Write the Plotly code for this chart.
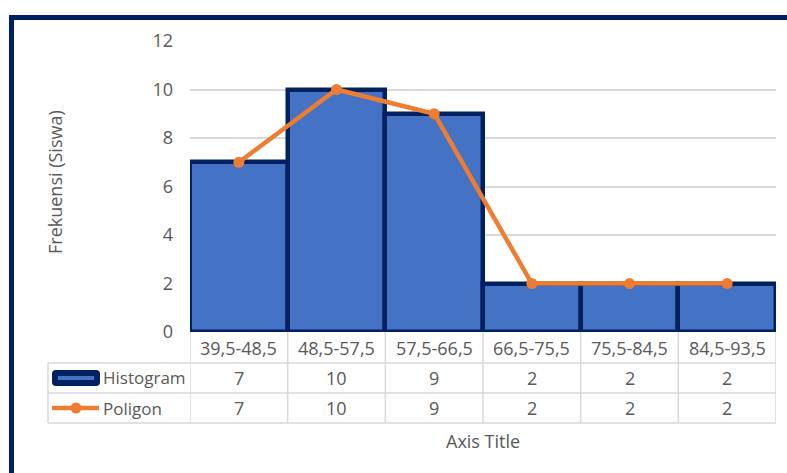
import plotly.graph_objects as go

categories = ["39,5-48,5", "48,5-57,5", "57,5-66,5", "66,5-75,5", "75,5-84,5", "84,5-93,5"]
histogram = [7, 10, 9, 2, 2, 2]
poligon = [7, 10, 9, 2, 2, 2]
y_ticks = [0, 2, 4, 6, 8, 10, 12]

NAVY = "#002060"
BLUE = "#4472C4"
ORANGE = "#ED7D31"
GRID = "#d9d9d9"
TXT = "#595959"
FONT = "Open Sans"
FS = 18

L, R, T, B = 190, 11, 41, 141
W, H = 787, 473
PW, PH = W - L - R, H - T - B
Y0 = H - B  # pixel y of value 0


def px(p):
    return (p - L) / PW


def py(p):
    return (Y0 - p) / PH


fig = go.Figure()
fig.add_trace(go.Bar(
    x=list(range(len(categories))), y=histogram, width=1,
    marker=dict(color=BLUE, line=dict(color=NAVY, width=4.5)),
    name="Histogram", showlegend=False,
))
fig.add_trace(go.Scatter(
    x=list(range(len(categories))), y=poligon, mode="lines+markers",
    line=dict(color=ORANGE, width=4.5), marker=dict(color=ORANGE, size=11),
    name="Poligon", showlegend=False,
))

shapes = []
line_style = dict(color=GRID, width=1.5)
# table vertical lines
for i in range(len(categories) + 1):
    shapes.append(dict(type="line", xref="x", yref="paper", x0=i - 0.5, x1=i - 0.5,
                       y0=py(332), y1=py(423), line=line_style, layer="below"))
# left border of series rows
shapes.append(dict(type="line", xref="paper", yref="paper", x0=px(48), x1=px(48),
                   y0=py(363), y1=py(423), line=line_style))
for yy in (363, 393, 423):
    shapes.append(dict(type="line", xref="paper", yref="paper", x0=px(48), x1=1,
                       y0=py(yy), y1=py(yy), line=line_style))

# legend key: histogram (rounded navy rect with blue inner bar)
x0k, x1k, y0k, y1k = 52, 100, 370, 386
r = 4
path = (f"M {px(x0k + r)},{py(y0k)} L {px(x1k - r)},{py(y0k)} "
        f"Q {px(x1k)},{py(y0k)} {px(x1k)},{py(y0k + r)} "
        f"L {px(x1k)},{py(y1k - r)} Q {px(x1k)},{py(y1k)} {px(x1k - r)},{py(y1k)} "
        f"L {px(x0k + r)},{py(y1k)} Q {px(x0k)},{py(y1k)} {px(x0k)},{py(y1k - r)} "
        f"L {px(x0k)},{py(y0k + r)} Q {px(x0k)},{py(y0k)} {px(x0k + r)},{py(y0k)} Z")
shapes.append(dict(type="path", xref="paper", yref="paper", path=path,
                   fillcolor=NAVY, line=dict(color=NAVY, width=0)))
shapes.append(dict(type="line", xref="paper", yref="paper", x0=px(58), x1=px(94),
                   y0=py(378), y1=py(378), line=dict(color=BLUE, width=4)))
# legend key: poligon
shapes.append(dict(type="line", xref="paper", yref="paper", x0=px(52), x1=px(99),
                   y0=py(408), y1=py(408), line=dict(color=ORANGE, width=4.5)))
shapes.append(dict(type="circle", xref="paper", yref="paper", x0=px(70.5), x1=px(81.5),
                   y0=py(402.5), y1=py(413.5), fillcolor=ORANGE, line=dict(color=ORANGE, width=0)))

# chart frame
shapes.append(dict(type="rect", xref="paper", yref="paper", x0=px(11.5), x1=px(800),
                   y0=py(490), y1=py(17.5), line=dict(color=NAVY, width=5)))


def ann(x, y, text, xref="paper", xanchor="center", angle=0, size=FS):
    return dict(x=x, y=y, xref=xref, yref="paper", text=text, showarrow=False,
                xanchor=xanchor, yanchor="middle", textangle=angle,
                font=dict(family=FONT, size=size, color=TXT))


annotations = []
for i, c in enumerate(categories):
    annotations.append(ann(i, py(348), c, xref="x"))
    annotations.append(ann(i, py(378), str(histogram[i]), xref="x"))
    annotations.append(ann(i, py(408), str(poligon[i]), xref="x"))
annotations.append(ann(px(101), py(378), "Histogram", xanchor="left", size=17))
annotations.append(ann(px(101), py(408), "Poligon", xanchor="left", size=17))
annotations.append(ann(px(483), py(441), "Axis Title"))
annotations.append(ann(px(55), py(182), "Frekuensi (Siswa)", angle=-90))

fig.update_layout(
    width=W, height=H, margin=dict(l=L, r=R, t=T, b=B, pad=0),
    paper_bgcolor="white", plot_bgcolor="white",
    bargap=0, shapes=shapes, annotations=annotations,
    font=dict(family=FONT, size=FS, color=TXT),
    xaxis=dict(range=[-0.5, len(categories) - 0.5], showticklabels=False, showgrid=False,
               zeroline=False, showline=False, fixedrange=True),
    yaxis=dict(range=[0, 12], tickmode="array", tickvals=y_ticks, ticktext=[str(v) for v in y_ticks],
               showgrid=True, gridcolor=GRID, gridwidth=1.5, zeroline=False, showline=False,
               ticks="", ticklabelstandoff=16, tickfont=dict(family=FONT, size=FS, color=TXT)),
)

fig.write_html("out.html")
